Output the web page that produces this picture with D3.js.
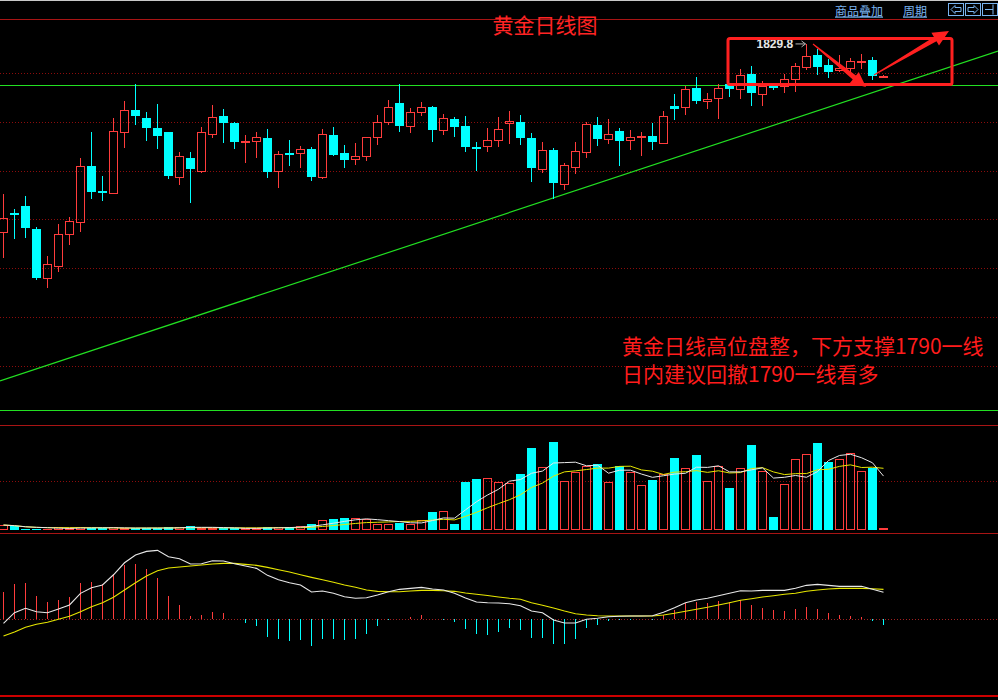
<!DOCTYPE html>
<html><head><meta charset="utf-8">
<script src="https://cdn.jsdelivr.net/npm/d3@7/dist/d3.min.js"></script>
<style>html,body{margin:0;padding:0;background:#000;overflow:hidden}</style>
</head><body>
<svg id="c" width="998" height="700"></svg>
<script>
// ---------------- DATA ----------------
const title = "黄金日线图";
const note1 = "黄金日线高位盘整，下方支撑1790一线";
const note2 = "日内建议回撤1790一线看多";
const topLinks = ["商品叠加", "周期"];
const highLabel = "1829.8";

const open = [1752.7,1760.6,1763.5,1754.1,1734.1,1739.0,1751.9,1757.1,1779.8,1769.8,
1768.9,1793.6,1802.6,1799.5,1795.4,1793.8,1775.5,1783.1,1777.9,1792.8,
1800.3,1797.4,1789.5,1790.0,1791.3,1777.7,1785.2,1785.0,1786.8,1775.5,
1792.5,1785.2,1782.6,1784.1,1791.6,1797.7,1805.6,1796.3,1802.1,1803.9,
1794.5,1799.0,1796.1,1787.5,1787.9,1790.6,1797.6,1797.9,1791.3,1778.7,
1786.4,1772.6,1779.3,1785.5,1796.6,1791.0,1794.2,1790.6,1791.7,1792.1,
1789.4,1804.4,1803.9,1811.8,1806.6,1807.5,1813.3,1811.2,1817.5,1809.2,
1812.7,1812.5,1815.3,1820.5,1825.4,1821.2,1819.0,1820.1,1822.4,1823.1,
1816.5];
const high = [1768.4,1762.3,1767.6,1754.9,1743.0,1756.1,1759.0,1783.1,1793.8,1775.8,
1799.5,1806.4,1813.4,1801.9,1805.2,1793.8,1785.6,1785.6,1795.8,1804.8,
1803.2,1797.7,1792.5,1793.8,1795.0,1786.0,1790.5,1788.0,1787.6,1795.0,
1795.8,1788.4,1789.3,1791.6,1800.7,1806.9,1813.4,1803.6,1806.0,1804.2,
1801.1,1799.9,1800.3,1789.7,1795.4,1799.9,1802.4,1800.7,1793.4,1789.7,
1787.2,1781.1,1789.7,1797.9,1799.9,1799.1,1795.4,1794.6,1793.8,1797.4,
1802.4,1809.3,1812.6,1816.3,1809.7,1813.3,1813.7,1819.5,1820.8,1814.6,
1813.3,1817.6,1822.0,1829.8,1827.6,1823.6,1825.4,1823.9,1825.8,1824.3,
1817.0];
const low = [1742.3,1750.5,1750.9,1733.6,1730.0,1736.6,1747.6,1752.8,1766.9,1765.9,
1768.5,1787.2,1797.2,1790.5,1787.2,1774.9,1772.2,1765.2,1777.1,1791.4,
1789.8,1787.3,1781.6,1783.2,1775.5,1771.0,1780.4,1779.2,1774.2,1774.7,
1784.2,1779.6,1780.4,1782.0,1788.6,1796.7,1794.3,1793.4,1800.4,1790.1,
1792.7,1792.2,1786.1,1778.3,1785.7,1787.7,1788.8,1789.0,1773.8,1777.1,
1766.6,1770.1,1776.7,1783.1,1788.6,1789.0,1780.4,1786.5,1784.5,1786.9,
1789.0,1799.1,1800.8,1805.8,1803.3,1799.1,1808.3,1807.4,1804.9,1804.3,
1811.2,1809.8,1810.0,1819.0,1817.5,1816.1,1818.2,1818.0,1819.8,1815.3,
1816.1];
const close = [1758.4,1760.0,1754.6,1734.1,1739.7,1752.0,1757.3,1779.7,1769.3,1769.2,
1794.0,1802.6,1800.4,1795.5,1792.2,1775.9,1783.8,1778.7,1793.6,1799.8,
1797.6,1789.7,1790.0,1791.6,1777.5,1784.6,1784.5,1786.7,1775.5,1792.8,
1784.5,1782.4,1783.8,1791.6,1797.7,1803.9,1796.3,1801.8,1803.9,1794.7,
1799.4,1795.9,1787.7,1786.9,1790.4,1794.9,1798.1,1791.4,1779.2,1786.4,
1773.0,1780.1,1786.0,1797.0,1791.0,1792.9,1790.2,1791.6,1792.1,1789.8,
1800.3,1803.3,1811.2,1806.6,1807.3,1811.8,1811.2,1817.0,1809.6,1812.5,
1812.2,1815.3,1820.6,1824.9,1820.5,1818.4,1819.8,1822.7,1822.7,1816.7,
1816.7];
const volume = [15,11,3,3,3,8,7,8,5,5,
9,5,5,5,5,9,9,12,5,5,
5,5,5,5,9,8,9,12,18,30,
33,36,36,32,18,18,22,18,30,54,
57,18,143,152,155,143,140,167,246,188,
264,146,173,192,198,143,191,173,134,149,
167,216,185,225,146,191,125,185,255,176,
38,137,212,228,261,204,213,230,176,185,
5];
const macdBar = [6.83,8.9,9.08,5.83,4.33,4.83,5.58,9.08,9.33,8.75,
11.33,13.58,13.83,12.58,10.33,5.83,3.58,0.83,1.08,1.83,
1.58,0.1,-0.93,-1.68,-4.43,-4.93,-5.43,-5.18,-6.68,-4.93,
-4.93,-5.18,-4.93,-3.68,-1.68,-0.18,0.1,0.58,1.08,0.05,
-0.15,-0.68,-2.43,-3.68,-3.93,-3.18,-2.18,-2.68,-4.68,-4.68,
-6.18,-6.18,-4.93,-2.18,-1.43,-0.43,-0.1,-0.15,-0.05,-0.1,
1.08,2.33,4.0,4.33,4.08,4.58,4.33,4.75,3.58,2.83,
2.33,2.08,2.58,3.08,2.58,1.58,1.08,0.83,0.58,-0.35,
-1.43];
const dif = [-1.0,1.65,2.75,1.9,1.65,2.58,3.58,6.5,7.9,8.58,
11.15,14.15,16.08,17.0,17.25,15.65,15.15,13.83,13.9,14.65,
14.58,13.9,13.33,12.75,11.0,9.9,9.15,8.58,6.83,7.08,
6.5,5.65,5.25,5.4,6.08,6.9,7.5,7.75,8.0,7.58,
7.33,6.5,5.33,4.33,4.15,4.08,3.9,3.4,2.08,1.65,
-0.18,-0.93,-0.93,0,0.25,0.65,0.75,0.83,0.83,0.9,
1.75,2.9,4.15,4.83,5.25,5.9,6.5,7.15,7.08,7.25,
7.25,7.25,7.75,8.5,8.75,8.5,8.25,8.25,8.25,7.5,
6.75];
const dea = [-4.18,-3.18,-2.0,-1.25,-0.75,0,0.75,1.9,3.15,4.15,
5.5,7.33,9.15,10.83,12.15,12.83,13.08,13.33,13.58,13.83,
14.0,14.0,13.75,13.5,13.0,12.4,11.83,11.15,10.5,9.9,
9.25,8.58,8.0,7.33,7.0,6.9,6.9,7.08,7.25,7.25,
7.15,7.0,6.58,6.25,5.95,5.58,5.25,5.0,4.15,3.5,
2.83,2.08,1.4,1.08,0.9,0.83,0.83,0.83,0.83,0.83,
1.08,1.5,2.0,2.5,3.0,3.58,4.15,4.75,5.15,5.58,
5.9,6.25,6.5,7.0,7.33,7.58,7.75,7.75,7.75,7.65,
7.5];
const priceGrid = [1698,1718,1738,1758,1778,1798,1818];
const resistance = 1813;
const trendIdx = [0, 80];
const trendPrice = [1692.4, 1811.4];
const volGrid = [147];
const highIdx = 73;

// ---------------- CHART ----------------
const W = 998, H = 700;
const RED = "#ff3c3c", CYAN = "#00ffff", GREEN = "#22e022", LINE_RED = "#a81414", DOT_RED = "#8c0c0c";
const svg = d3.select("#c");
svg.append("rect").attr("width", W).attr("height", H).attr("fill", "#000");

const n = close.length;
const x = d3.scaleLinear().domain([0, n - 1]).range([3.5, 883.5]);
const y = d3.scaleLinear().domain([1680, 1840]).range([410, 19]);
const yv = d3.scaleLinear().domain([0, 315]).range([530, 425]);
const ym = d3.scaleLinear().domain([-19.2, 21.6]).range([696, 533]);
const px = v => Math.round(v) + 0.5;

// frame lines
svg.append("rect").attr("x", 0).attr("y", 0).attr("width", W).attr("height", 1).attr("fill", "#c8c8c8");
const hline = (yy, color, w, dash) => {
  const l = svg.append("line").attr("x1", 0).attr("x2", W).attr("y1", yy).attr("y2", yy)
    .attr("stroke", color).attr("stroke-width", w).attr("shape-rendering", "crispEdges");
  if (dash) l.attr("stroke-dasharray", dash);
};
hline(19.5, LINE_RED, 1);
priceGrid.forEach(p => hline(px(y(p)), DOT_RED, 1, "1,2"));
hline(px(y(resistance)), GREEN, 1.4);
hline(px(y(1680)), GREEN, 1.4);
hline(425.5, LINE_RED, 1);
volGrid.forEach(v => hline(px(yv(v)), DOT_RED, 1, "1,2"));
hline(533.5, LINE_RED, 1);
hline(px(ym(0)), "#a02020", 1, "1,2");
hline(696, "#cc0000", 1.5);

// trend line (extended to chart edges)
const slope = (trendPrice[1] - trendPrice[0]) / (trendIdx[1] - trendIdx[0]);
const i0 = x.invert(0), i1 = x.invert(W);
svg.append("line")
  .attr("x1", 0).attr("y1", y(trendPrice[0] + slope * (i0 - trendIdx[0])))
  .attr("x2", W).attr("y2", y(trendPrice[0] + slope * (i1 - trendIdx[0])))
  .attr("stroke", GREEN).attr("stroke-width", 1.2);

// candles
const cg = svg.append("g").attr("shape-rendering", "crispEdges");
for (let i = 0; i < n; i++) {
  const cx = x(i);
  const up = close[i] >= open[i];
  const col = up ? RED : CYAN;
  const top = Math.round(y(Math.max(open[i], close[i])));
  const bot = Math.round(y(Math.min(open[i], close[i])));
  const yh = Math.round(y(high[i])), yl = Math.round(y(low[i]));
  if (up && bot - top >= 2) {
    cg.append("line").attr("x1", cx).attr("x2", cx).attr("y1", yh).attr("y2", top).attr("stroke", col);
    cg.append("line").attr("x1", cx).attr("x2", cx).attr("y1", bot).attr("y2", yl).attr("stroke", col);
    cg.append("rect").attr("x", cx - 4).attr("y", top + 0.5).attr("width", 8).attr("height", bot - top)
      .attr("fill", "none").attr("stroke", col).attr("stroke-width", 1);
  } else {
    cg.append("line").attr("x1", cx).attr("x2", cx).attr("y1", yh).attr("y2", yl + 1).attr("stroke", col);
    cg.append("rect").attr("x", cx - 4.5).attr("y", top).attr("width", 9).attr("height", Math.max(2, bot - top))
      .attr("fill", col);
  }
}

// volume
const vg = svg.append("g").attr("shape-rendering", "crispEdges");
for (let i = 0; i < n; i++) {
  const cx = x(i);
  const up = close[i] >= open[i];
  const t = Math.round(yv(volume[i])), b = Math.round(yv(0));
  if (up && b - t >= 2) {
    vg.append("rect").attr("x", cx - 4).attr("y", t + 0.5).attr("width", 8).attr("height", b - t - 1)
      .attr("fill", "none").attr("stroke", RED);
  } else {
    vg.append("rect").attr("x", cx - 4.5).attr("y", t).attr("width", 9).attr("height", Math.max(1, b - t))
      .attr("fill", up ? RED : CYAN);
  }
}
const ma = (arr, k) => arr.map((_, i) => d3.mean(arr.slice(Math.max(0, i - k + 1), i + 1)));
const vline = d3.line().x((d, i) => x(i)).y(d => yv(d));
svg.append("path").attr("d", vline(ma(volume, 10))).attr("fill", "none").attr("stroke", "#e6e600").attr("stroke-width", 1);
svg.append("path").attr("d", vline(ma(volume, 5))).attr("fill", "none").attr("stroke", "#e8e8e8").attr("stroke-width", 1);

// MACD
const mg = svg.append("g").attr("shape-rendering", "crispEdges");
macdBar.forEach((v, i) => {
  mg.append("line").attr("x1", x(i)).attr("x2", x(i)).attr("y1", ym(0)).attr("y2", ym(v))
    .attr("stroke", v >= 0 ? RED : CYAN).attr("stroke-width", 1);
});
const mline = d3.line().x((d, i) => x(i)).y(d => ym(d));
svg.append("path").attr("d", mline(dea)).attr("fill", "none").attr("stroke", "#e6e600").attr("stroke-width", 1.1);
svg.append("path").attr("d", mline(dif)).attr("fill", "none").attr("stroke", "#e8e8e8").attr("stroke-width", 1.1);

// title and notes
const CJK = "'Noto Sans CJK SC','Noto Sans',sans-serif";
svg.append("text").attr("x", 545).attr("y", 24).attr("text-anchor", "middle").attr("dominant-baseline", "central")
  .attr("font-family", CJK).attr("font-size", 21).attr("fill", "#ff2424").text(title);
svg.append("text").attr("x", 622).attr("y", 345).attr("dominant-baseline", "central")
  .attr("font-family", CJK).attr("font-size", 21).attr("fill", "#ff1c1c").text(note1);
svg.append("text").attr("x", 622).attr("y", 373).attr("dominant-baseline", "central")
  .attr("font-family", CJK).attr("font-size", 21).attr("fill", "#ff1c1c").text(note2);

// top-right links
const LINK = "#7ab4f0";
svg.append("text").attr("x", 835).attr("y", 10).attr("dominant-baseline", "central").attr("font-family", CJK)
  .attr("font-size", 12).attr("fill", LINK).attr("text-decoration", "underline").text(topLinks[0]);
svg.append("text").attr("x", 903).attr("y", 10).attr("dominant-baseline", "central").attr("font-family", CJK)
  .attr("font-size", 12).attr("fill", LINK).attr("text-decoration", "underline").text(topLinks[1]);
[948.5, 965.5, 982.5].forEach((bx, k) => {
  svg.append("rect").attr("x", bx).attr("y", 3.5).attr("width", 15).attr("height", 12)
    .attr("fill", "none").attr("stroke", LINK).attr("shape-rendering", "crispEdges");
  const cxm = bx + 7.5, cym = 9.5;
  if (k === 0) {
    svg.append("path").attr("d", `M${cxm-5},${cym} L${cxm-1},${cym-4} L${cxm-1},${cym-2} L${cxm+5},${cym-2} L${cxm+5},${cym+2} L${cxm-1},${cym+2} L${cxm-1},${cym+4} Z`)
      .attr("fill", "none").attr("stroke", LINK);
  } else if (k === 1) {
    svg.append("path").attr("d", `M${cxm+5},${cym} L${cxm+1},${cym-4} L${cxm+1},${cym-2} L${cxm-5},${cym-2} L${cxm-5},${cym+2} L${cxm+1},${cym+2} L${cxm+1},${cym+4} Z`)
      .attr("fill", "none").attr("stroke", LINK);
  } else {
    svg.append("path").attr("d", `M${cxm-5},${cym} L${cxm+3},${cym} M${cxm+3},${cym-5} L${cxm+3},${cym+5}`)
      .attr("fill", "none").attr("stroke", LINK);
  }
});

// high label
const hx = x(highIdx), hy = y(high[highIdx]);
svg.append("text").attr("x", hx - 50).attr("y", hy).attr("dominant-baseline", "central")
  .attr("font-family", "'Liberation Sans',Arial,sans-serif").attr("font-weight", "bold").attr("font-size", 12)
  .attr("fill", "#e6e6e6").text(highLabel);
svg.append("line").attr("x1", hx - 11).attr("x2", hx - 1).attr("y1", hy).attr("y2", hy).attr("stroke", "#b4b4b4");
svg.append("path").attr("d", `M${hx-1},${hy} L${hx-5},${hy-3} M${hx-1},${hy} L${hx-5},${hy+3}`).attr("stroke", "#b4b4b4").attr("fill", "none");

// red box
svg.append("rect").attr("x", 728).attr("y", 38.5).attr("width", 224).attr("height", 46).attr("rx", 2)
  .attr("fill", "none").attr("stroke", "#ff2020").attr("stroke-width", 3);

// red arrows
function arrow(x1, y1, x2, y2, tailW, neckW, headW, headLen) {
  const dx = x2 - x1, dy = y2 - y1, L = Math.hypot(dx, dy);
  const ux = dx / L, uy = dy / L, nx = -uy, ny = ux;
  const bx = x2 - ux * headLen, by = y2 - uy * headLen;
  const pts = [
    [x1 + nx * tailW / 2, y1 + ny * tailW / 2],
    [bx + nx * neckW / 2, by + ny * neckW / 2],
    [bx + nx * headW / 2, by + ny * headW / 2],
    [x2, y2],
    [bx - nx * headW / 2, by - ny * headW / 2],
    [bx - nx * neckW / 2, by - ny * neckW / 2],
    [x1 - nx * tailW / 2, y1 - ny * tailW / 2]
  ];
  svg.append("polygon").attr("points", pts.map(p => p.join(",")).join(" ")).attr("fill", "#ff2020");
}
arrow(813, 44, 866, 87, 1, 5, 14, 15);
arrow(874, 75, 949, 31, 1, 5, 15, 16);
</script>
</body></html>
